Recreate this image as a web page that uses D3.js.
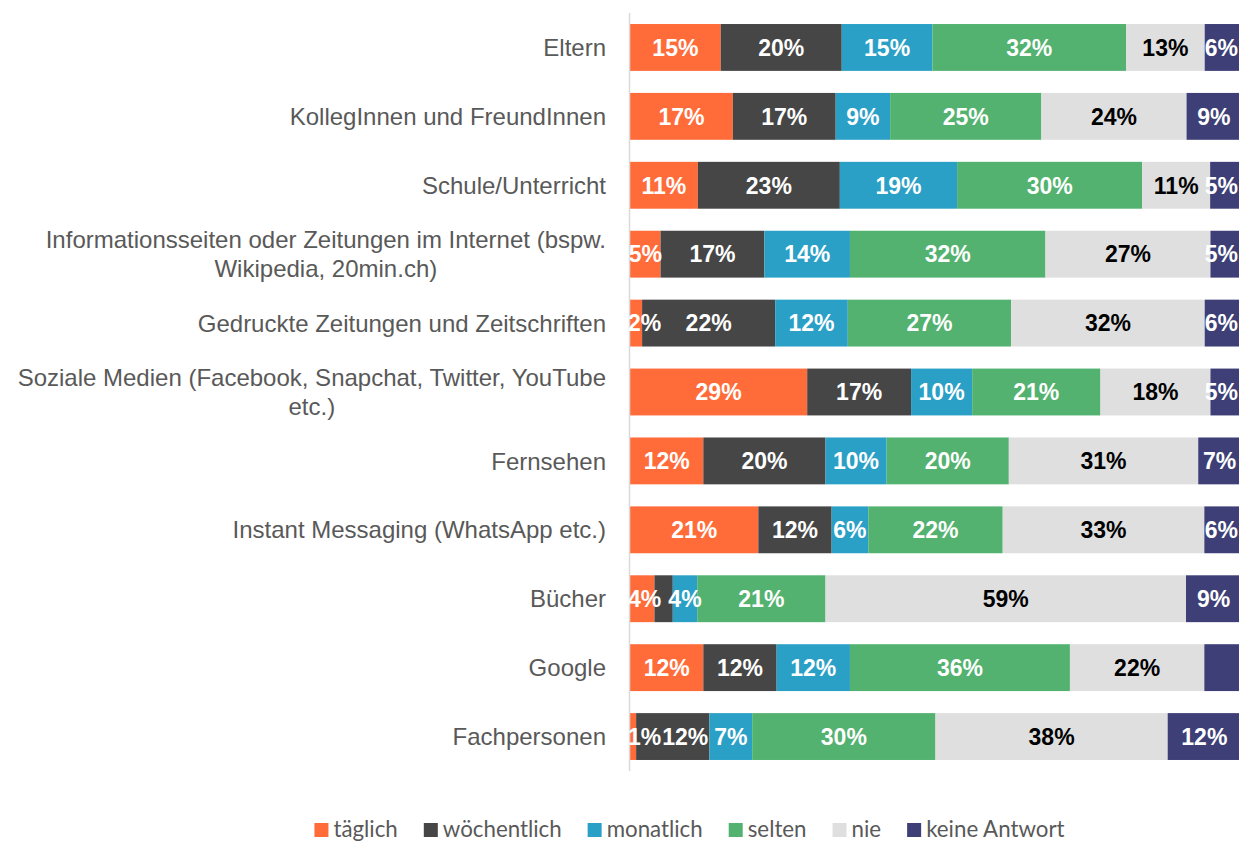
<!DOCTYPE html>
<html><head><meta charset="utf-8">
<script src="https://cdn.jsdelivr.net/npm/d3@7"></script>
<style>body{margin:0;background:#fff} svg{display:block}</style>
</head><body><svg id="c" width="1239" height="843"></svg>
<script>
const categories = ["Eltern","KollegInnen und FreundInnen","Schule/Unterricht",
  "Informationsseiten oder Zeitungen im Internet (bspw. Wikipedia, 20min.ch)",
  "Gedruckte Zeitungen und Zeitschriften",
  "Soziale Medien (Facebook, Snapchat, Twitter, YouTube etc.)",
  "Fernsehen","Instant Messaging (WhatsApp etc.)","Bücher","Google","Fachpersonen"];
const series = ["täglich","wöchentlich","monatlich","selten","nie","keine Antwort"];
const taeglich     = [15,17,11, 5, 2,29,12,21, 4,12, 1];
const woechentlich = [20,17,23,17,22,17,20,12, 3,12,12];
const monatlich    = [15, 9,19,14,12,10,10, 6, 4,12, 7];
const selten       = [32,25,30,32,27,21,20,22,21,36,30];
const nie          = [13,24,11,27,32,18,31,33,59,22,38];
const keineAntwort = [ 6, 9, 5, 5, 6, 5, 7, 6, 9, 6,12];
const hiddenLabels = [["Bücher","wöchentlich"],["Google","keine Antwort"]];
const colors = ["#FF6C3A","#464646","#2BA0C6","#53B26F","#DFDFDF","#3D3F76"];
const labelColors = ["#fff","#fff","#fff","#fff","#000","#fff"];

const seriesValues = [taeglich, woechentlich, monatlich, selten, nie, keineAntwort];
const table = categories.map((c, i) => {
  const row = {category: c};
  series.forEach((s, j) => row[s] = seriesValues[j][i]);
  return row;
});

const svg = d3.select("#c");
const x0 = 630, x1 = 1241;
const x = d3.scaleLinear().domain([0, 1]).range([x0, x1]);
const y = d3.scaleBand().domain(categories).range([13, 771]).paddingInner(0.32).paddingOuter(0.16);
const color = d3.scaleOrdinal().domain(series).range(colors);
const lblColor = d3.scaleOrdinal().domain(series).range(labelColors);

const stack = d3.stack().keys(series).offset(d3.stackOffsetExpand);
const stacked = stack(table);

// bars
const layers = svg.append("g").selectAll("g").data(stacked).join("g")
  .attr("fill", d => color(d.key));
layers.selectAll("rect").data(d => d.map(p => Object.assign(p, {key: d.key}))).join("rect")
  .attr("x", d => x(d[0]))
  .attr("y", d => y(d.data.category))
  .attr("width", d => x(d[1]) - x(d[0]))
  .attr("height", y.bandwidth());

// axis line
const yAxis = d3.axisLeft(y).tickSize(0).tickFormat("");
const ag = svg.append("g").attr("transform", `translate(${x0 - 0.5},0)`).call(yAxis);
ag.select(".domain").attr("stroke", "#d9d9d9").attr("stroke-width", 1.5)
  .attr("d", `M0,13V771`);

// data labels
const lg = svg.append("g").attr("font-family", "'Liberation Sans', Arial, sans-serif")
  .attr("font-weight", "bold").attr("font-size", 23);
categories.forEach((cat, i) => {
  let prevRight = -Infinity;
  stacked.forEach(layer => {
    const seg = layer[i];
    const key = layer.key;
    if (hiddenLabels.some(h => h[0] === cat && h[1] === key)) return;
    const val = seg.data[key];
    const t = lg.append("text")
      .attr("fill", lblColor(key))
      .attr("text-anchor", "middle")
      .attr("dy", "0.36em")
      .attr("y", y(cat) + y.bandwidth() / 2)
      .text(val + "%");
    const w = t.node().getComputedTextLength();
    const cx = (x(seg[0]) + x(seg[1])) / 2;
    let left = Math.max(cx - w / 2, x0 - 2);
    if (left < prevRight + 1) left = prevRight + 1;
    left = Math.min(left, 1238 - w);
    t.attr("x", left + w / 2);
    prevRight = left + w;
  });
});

// category labels (wrapped, centered block, right aligned)
const cg = svg.append("g").attr("font-family", "'Liberation Sans', Arial, sans-serif")
  .attr("font-size", 24).attr("fill", "#595959");
const rightEdge = 606, maxW = 600, lh = 28.8;
categories.forEach(cat => {
  const t = cg.append("text").attr("text-anchor", "middle");
  const words = cat.split(" ");
  const lines = [];
  let cur = [];
  const probe = cg.append("text");
  words.forEach(wd => {
    const test = cur.concat([wd]).join(" ");
    probe.text(test);
    if (probe.node().getComputedTextLength() > maxW && cur.length) {
      lines.push(cur.join(" "));
      cur = [wd];
    } else cur.push(wd);
  });
  lines.push(cur.join(" "));
  let bw = 0;
  lines.forEach(l => { probe.text(l); bw = Math.max(bw, probe.node().getComputedTextLength()); });
  probe.remove();
  const cx = rightEdge - bw / 2;
  const cy = y(cat) + y.bandwidth() / 2;
  lines.forEach((l, k) => {
    t.append("tspan").attr("x", cx)
      .attr("y", cy + (k - (lines.length - 1) / 2) * lh)
      .attr("dy", "0.36em").text(l);
  });
});

// legend
const leg = svg.append("g").attr("font-family", "Lato, 'Open Sans', sans-serif")
  .attr("font-size", 22.3).attr("fill", "#595959");
const items = [];
let cursor = 0;
series.forEach(s => {
  const g = leg.append("g");
  g.append("rect").attr("x", 0).attr("y", -7).attr("width", 14).attr("height", 14).attr("fill", color(s));
  const tx = g.append("text").attr("x", 19).attr("dy", "0.33em").text(s);
  const w = 19 + tx.node().getComputedTextLength();
  items.push({g, start: cursor});
  cursor += w + 26;
});
const total = cursor - 26;
const lx = 689.5 - total / 2;
items.forEach(it => it.g.attr("transform", `translate(${lx + it.start},830)`));
</script>
</body></html>
